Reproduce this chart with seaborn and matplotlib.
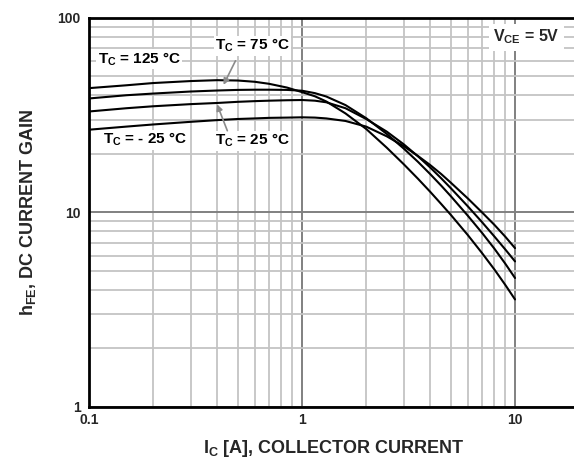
import matplotlib
matplotlib.use("Agg")
import matplotlib.pyplot as plt
import seaborn as sns
import pandas as pd

ic = [0.1, 0.15, 0.2, 0.3, 0.4, 0.5, 0.6, 0.7, 0.85, 1.0, 1.15, 1.3, 1.6,
      2.0, 2.5, 3.0, 3.5, 4.0, 4.5, 5, 6, 7, 8, 9, 10]

# DC current gain per case temperature
hfe_125 = [43.5, 45.0, 46.2, 47.3, 47.8, 47.6, 46.9, 45.8, 43.8, 41.5, 39.5, 37.15, 32.25,
           26.85, 21.5, 17.7, 14.9, 12.75, 11.05, 9.7, 7.65, 6.18, 5.09, 4.24, 3.57]
hfe_75 = [38.5, 40.0, 40.8, 41.8, 42.3, 42.6, 42.7, 42.7, 42.6, 42.2, 41.0, 39.4, 35.6,
          30.5, 25.3, 21.3, 18.2, 15.72, 13.73, 12.1, 9.62, 7.85, 6.51, 5.45, 4.6]
hfe_25 = [33.0, 34.3, 35.1, 36.0, 36.5, 37.0, 37.3, 37.5, 37.7, 37.8, 37.5, 36.8, 34.3,
          30.2, 26.0, 22.4, 19.43, 17.0, 14.98, 13.3, 10.75, 8.91, 7.52, 6.45, 5.6]
hfe_m25 = [26.6, 27.6, 28.3, 29.2, 29.8, 30.2, 30.4, 30.6, 30.7, 30.8, 30.7, 30.4, 29.5,
           27.6, 24.6, 21.9, 19.5, 17.5, 15.75, 14.2, 11.8, 10.0, 8.63, 7.5, 6.55]

x_ticks = [0.1, 1, 10]
x_labels = ["0.1", "1", "10"]
y_ticks = [1, 10, 100]
y_labels = ["1", "10", "100"]

# long format for seaborn
series = {"125": hfe_125, "75": hfe_75, "25": hfe_25, "-25": hfe_m25}
rows = []
for tc, vals in series.items():
    for x, y in zip(ic, vals):
        rows.append({"ic": x, "hfe": y, "tc": tc})
df = pd.DataFrame(rows)

sns.set_theme(style="white")
plt.rcParams["font.family"] = ["Liberation Sans", "DejaVu Sans"]
plt.rcParams["mathtext.default"] = "regular"

fig = plt.figure(figsize=(5.74, 4.67), dpi=100)
ax = fig.add_axes([0.155, 0.1285, 0.854, 0.8334])

ax.set_xscale("log")
ax.set_yscale("log")
ax.set_xlim(0.1, 20)
ax.set_ylim(1, 100)

# grid: light minor lines, darker decade lines
ax.grid(True, which="minor", color="#c4c4c4", lw=1.3, zorder=0)
ax.grid(True, which="major", color="#808080", lw=1.4, zorder=0)
ax.set_axisbelow(True)

sns.lineplot(data=df, x="ic", y="hfe", hue="tc", palette=["black"] * 4,
             legend=False, lw=1.5, estimator=None, sort=False, ax=ax, zorder=3)

ax.set_xticks(x_ticks)
ax.set_xticklabels(x_labels, fontsize=10, fontweight="bold")
ax.set_yticks(y_ticks)
ax.set_yticklabels(y_labels, fontsize=10, fontweight="bold")
ax.tick_params(axis="x", which="both", length=0, pad=4)
ax.tick_params(axis="y", which="both", length=0, pad=6)

for side in ["left", "bottom", "top"]:
    ax.spines[side].set_linewidth(2)
    ax.spines[side].set_color("black")
ax.spines["right"].set_visible(False)

ax.set_xlabel("I$_C$ [A], COLLECTOR CURRENT", fontsize=13, fontweight="bold", labelpad=8)
ax.set_ylabel("h$_{FE}$, DC CURRENT GAIN", fontsize=13, fontweight="bold", labelpad=14)

box = dict(facecolor="white", edgecolor="none", pad=1)
txt = dict(transform=ax.transAxes, fontsize=11, fontweight="bold", va="baseline",
           color="black", bbox=box, zorder=2)
ax.text(0.018, 0.8826, "T$_C$ = 125 °C", **txt)
ax.text(0.257, 0.917, "T$_C$ = 75 °C", **txt)
ax.text(0.029, 0.6757, "T$_C$ = - 25 °C", **txt)
ax.text(0.257, 0.673, "T$_C$ = 25 °C", **txt)
ax.text(0.824, 0.9386, "V$_{CE}$ = 5V", transform=ax.transAxes, fontsize=11.5,
        fontweight="bold", va="baseline",
        bbox=dict(facecolor="white", edgecolor="none", pad=3))

arrow = dict(arrowstyle="-|>", color="#8a8a8a", lw=1.2, mutation_scale=9)
ax.annotate("", xy=(0.272, 0.8214), xytext=(0.3014, 0.8959),
            xycoords="axes fraction", arrowprops=arrow)
ax.annotate("", xy=(0.2592, 0.7844), xytext=(0.2843, 0.7032),
            xycoords="axes fraction", arrowprops=arrow)

fig.savefig("out.png", dpi=100)
